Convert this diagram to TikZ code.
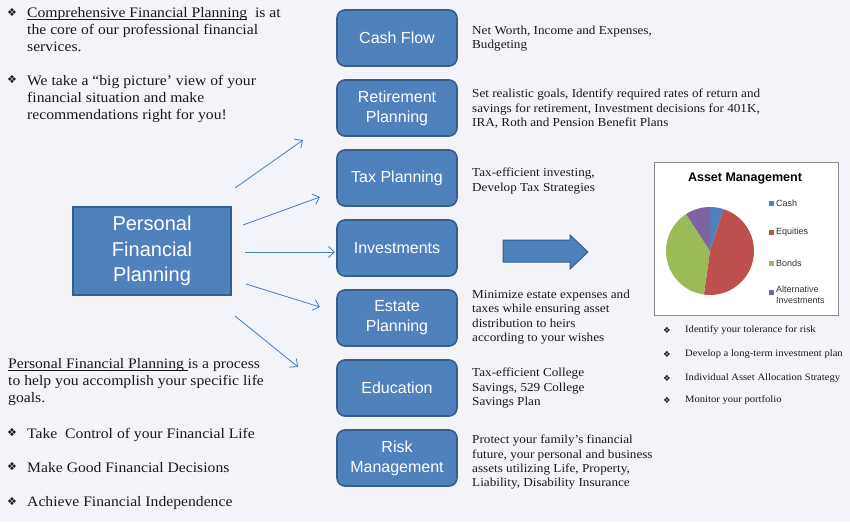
\documentclass[tikz,border=0pt]{standalone}
\usepackage{fontspec}
\setmainfont[FakeStretch=1.08]{Liberation Serif}
\setsansfont{Liberation Sans}
\newfontfamily\dingfont{DejaVu Sans}
\usetikzlibrary{arrows.meta}
\newcommand\myul[1]{\underline{\smash{#1}}}
\definecolor{bg}{RGB}{242,244,250}
\definecolor{boxfill}{RGB}{79,129,189}
\definecolor{boxline}{RGB}{56,93,138}
\definecolor{arrowc}{RGB}{74,126,187}
\definecolor{cashc}{RGB}{79,129,189}
\definecolor{equc}{RGB}{192,80,77}
\definecolor{bondc}{RGB}{155,187,89}
\definecolor{altc}{RGB}{128,100,162}
\definecolor{txt}{RGB}{25,25,25}
\tikzset{
  topic/.style={draw=boxline, line width=1.6pt, fill=boxfill, rounded corners=8pt,
    minimum width=120pt, minimum height=56pt, text=white, align=center, inner sep=0pt,
    font=\sffamily\fontsize{16}{20}\selectfont},
  mainbox/.style={draw=boxline, line width=1.6pt, fill=boxfill,
    minimum width=158pt, minimum height=88pt, text=white, align=center, inner sep=0pt,
    font=\sffamily\fontsize{20}{25.5}\selectfont},
  bigtxt/.style={anchor=north west, inner sep=0pt, align=left, text=txt,
    font=\fontsize{14.5}{17}\selectfont},
  desc/.style={anchor=north west, inner sep=0pt, align=left, text=txt,
    font=\fontsize{12.2}{14.3}\selectfont},
  small/.style={anchor=west, inner sep=0pt, text=txt, font=\fontsize{9.8}{12}\selectfont},
  bul/.style={inner sep=0pt, text=txt, font=\dingfont\fontsize{11}{12}\selectfont},
  sbul/.style={inner sep=0pt, text=txt, font=\dingfont\fontsize{8.5}{9}\selectfont},
  link/.style={draw=arrowc, line width=0.8pt, -{Straight Barb[length=6pt,width=11pt]}},
  leg/.style={anchor=west, inner sep=0pt, text=black!80, align=left,
    font=\sffamily\fontsize{9}{11}\selectfont},
}
\begin{document}
\begin{tikzpicture}[x=1pt,y=-1pt]
\fill[bg] (0,0) rectangle (850,522);
\useasboundingbox (0,0) rectangle (850,522);

% left texts
\node[bul] (b1) at (12,13) {❖};
\node[bigtxt] (t1) at (27,8) {\myul{Comprehensive Financial Planning}\ \ is at\\the core of our professional financial\\services.};
\node[bul] (b2) at (12,80) {❖};
\node[bigtxt] (t2) at (27,75) {We take a “big picture’ view of your\\financial situation and make\\recommendations right for you!};

\node[bigtxt] (t3) at (8,359) {\myul{Personal Financial Planning }is a process\\to help you accomplish your specific life\\goals.};
\node[bul] (b3) at (12,433) {❖};
\node[bigtxt] (t4) at (27,428) {Take\ \ Control of your Financial Life};
\node[bul] (b4) at (12,467) {❖};
\node[bigtxt] (t5) at (27,462) {Make Good Financial Decisions};
\node[bul] (b5) at (12,501) {❖};
\node[bigtxt] (t6) at (27,496) {Achieve Financial Independence};

% main box
\node[mainbox] (pfp) at (152,251) {Personal\\Financial\\Planning};

% topic boxes
\node[topic] (cash) at (397,38) {Cash Flow};
\node[topic] (ret) at (397,108) {Retirement\\Planning};
\node[topic] (tax) at (397,178) {Tax Planning};
\node[topic] (inv) at (397,248) {Investments};
\node[topic] (est) at (397,318) {Estate\\Planning};
\node[topic] (edu) at (397,388) {Education};
\node[topic] (risk) at (397,458) {Risk\\Management};

% descriptions
\node[desc] (d1) at (472,26) {Net Worth, Income and Expenses,\\Budgeting};
\node[desc] (d2) at (472,89) {Set realistic goals, Identify required rates of return and\\savings for retirement, Investment decisions for 401K,\\IRA, Roth and Pension Benefit Plans};
\node[desc] (d3) at (472,168) {Tax-efficient investing,\\Develop Tax Strategies};
\node[desc] (d4) at (472,290) {Minimize estate expenses and\\taxes while ensuring asset\\distribution to heirs\\according to your wishes};
\node[desc] (d5) at (472,368) {Tax-efficient College\\Savings, 529 College\\Savings Plan};
\node[desc] (d6) at (472,435) {Protect your family’s financial\\future, your personal and business\\assets utilizing Life, Property,\\Liability, Disability Insurance};

% arrows
\coordinate (s1) at (235,188); \coordinate (e1) at (303,140);
\coordinate (s2) at (243,225); \coordinate (e2) at (320,197);
\coordinate (s3) at (245,252); \coordinate (e3) at (335,252);
\coordinate (s4) at (246,284); \coordinate (e4) at (320,307);
\coordinate (s5) at (235,316); \coordinate (e5) at (298,367);
\draw[link] (s1) -- (e1);
\draw[link] (s2) -- (e2);
\draw[link] (s3) -- (e3);
\draw[link] (s4) -- (e4);
\draw[link] (s5) -- (e5);

% block arrow
\draw[fill=boxfill, draw=boxline, line width=1pt]
  (503,240) -- (570,240) -- (570,235) -- (588,252) -- (570,269) -- (570,262) -- (503,262) -- cycle;

% chart
\node[draw=black!45, line width=0.8pt, fill=white, minimum width=184pt, minimum height=153pt, inner sep=0pt] (chart) at (746,238.5) {};
\node[inner sep=0pt, font=\sffamily\bfseries\fontsize{12.5}{14}\selectfont] (ctitle) at (745,179) {Asset Management};
\begin{scope}[shift={(710,251)}]
\begin{scope}[yscale=-1]
\fill[cashc] (0,0) -- (90:44) arc[start angle=90, end angle=72, radius=44] -- cycle;
\fill[equc] (0,0) -- (72:44) arc[start angle=72, end angle=-98, radius=44] -- cycle;
\fill[bondc] (0,0) -- (-98:44) arc[start angle=-98, end angle=-237, radius=44] -- cycle;
\fill[altc] (0,0) -- (123:44) arc[start angle=123, end angle=90, radius=44] -- cycle;
\end{scope}
\end{scope}
\fill[cashc] (769,200.5) rectangle (774,205.5);
\node[leg] (l1) at (776,203) {Cash};
\fill[equc] (769,229.5) rectangle (774,234.5);
\node[leg] (l2) at (776,232) {Equities};
\fill[bondc] (769,260.5) rectangle (774,265.5);
\node[leg] (l3) at (776,263) {Bonds};
\fill[altc] (769,289.5) rectangle (774,294.5);
\node[leg, anchor=north west] (l4) at (776,286) {Alternative\\Investments};

% chart bullets
\node[sbul] (c1) at (667,330) {❖};
\node[small] (ct1) at (685,330) {Identify your tolerance for risk};
\node[sbul] (c2) at (667,354) {❖};
\node[small] (ct2) at (685,354) {Develop a long-term investment plan};
\node[sbul] (c3) at (667,378) {❖};
\node[small] (ct3) at (685,378) {Individual Asset Allocation Strategy};
\node[sbul] (c4) at (667,400) {❖};
\node[small] (ct4) at (685,400) {Monitor your portfolio};
\end{tikzpicture}
\end{document}
